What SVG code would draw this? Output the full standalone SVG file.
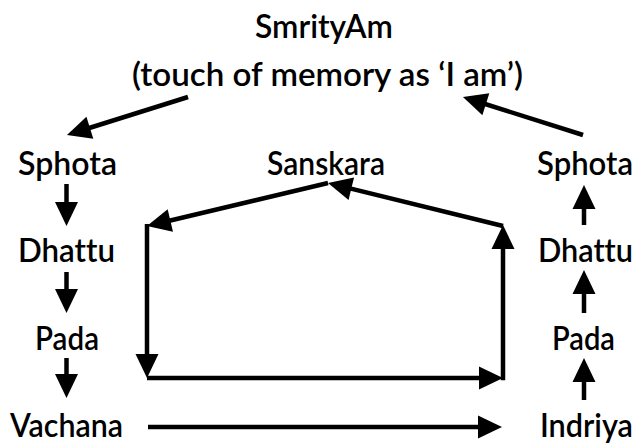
<svg xmlns="http://www.w3.org/2000/svg" width="637" height="446" viewBox="0 0 637 446">
<style>
text{font-family:Lato,"Liberation Sans",sans-serif;font-size:32px;font-weight:600;fill:#000;font-variant-ligatures:none}
.c line{stroke:#000;stroke-width:4.5;stroke-linecap:butt;marker-end:url(#ah)}
</style>
<defs>
<marker id="ah" markerUnits="userSpaceOnUse" markerWidth="24" markerHeight="23" refX="14" refY="11.5" orient="auto" overflow="visible">
<path d="M0,0 L24,11.5 L0,23 Z" fill="#000"/>
</marker>
</defs>
<rect width="637" height="446" fill="#fff"/>
<g id="smrityam"><text x="255" y="38" textLength="138" lengthAdjust="spacingAndGlyphs">SmrityAm</text>
<text x="132" y="86" textLength="391" lengthAdjust="spacingAndGlyphs">(touch of memory as ‘I am’)</text></g>
<g id="sphota-l"><text x="18" y="175" textLength="99" lengthAdjust="spacingAndGlyphs">Sphota</text></g>
<g id="dhattu-l"><text x="18" y="262" textLength="97" lengthAdjust="spacingAndGlyphs">Dhattu</text></g>
<g id="pada-l"><text x="35" y="350" textLength="64" lengthAdjust="spacingAndGlyphs">Pada</text></g>
<g id="vachana"><text x="10" y="437" textLength="113" lengthAdjust="spacingAndGlyphs">Vachana</text></g>
<g id="sanskara"><text x="267" y="175" textLength="118" lengthAdjust="spacingAndGlyphs">Sanskara</text></g>
<g id="sphota-r"><text x="537" y="175" textLength="96" lengthAdjust="spacingAndGlyphs">Sphota</text></g>
<g id="dhattu-r"><text x="538" y="262" textLength="95" lengthAdjust="spacingAndGlyphs">Dhattu</text></g>
<g id="pada-r"><text x="552" y="350" textLength="63" lengthAdjust="spacingAndGlyphs">Pada</text></g>
<g id="indriya"><text x="540" y="437" textLength="93" lengthAdjust="spacingAndGlyphs">Indriya</text></g>
<g id="connectors" class="c">
<line x1="188" y1="97" x2="76.5" y2="132"/>
<line x1="583" y1="135" x2="472.5" y2="100"/>
<line x1="66.5" y1="184" x2="66.5" y2="216"/>
<line x1="66.5" y1="272" x2="66.5" y2="303"/>
<line x1="66.5" y1="358" x2="66.5" y2="388"/>
<line x1="584" y1="225" x2="584" y2="195"/>
<line x1="584" y1="313" x2="584" y2="280"/>
<line x1="584" y1="400" x2="584" y2="368"/>
<line x1="148" y1="427" x2="492" y2="427"/>
<line x1="328" y1="183" x2="156.7" y2="223.7"/>
<line x1="147" y1="224" x2="147" y2="368"/>
<line x1="147" y1="378" x2="493" y2="378"/>
<line x1="503" y1="380.25" x2="503" y2="235"/>
<line x1="503" y1="226" x2="337.7" y2="185.4"/>
</g>
</svg>
